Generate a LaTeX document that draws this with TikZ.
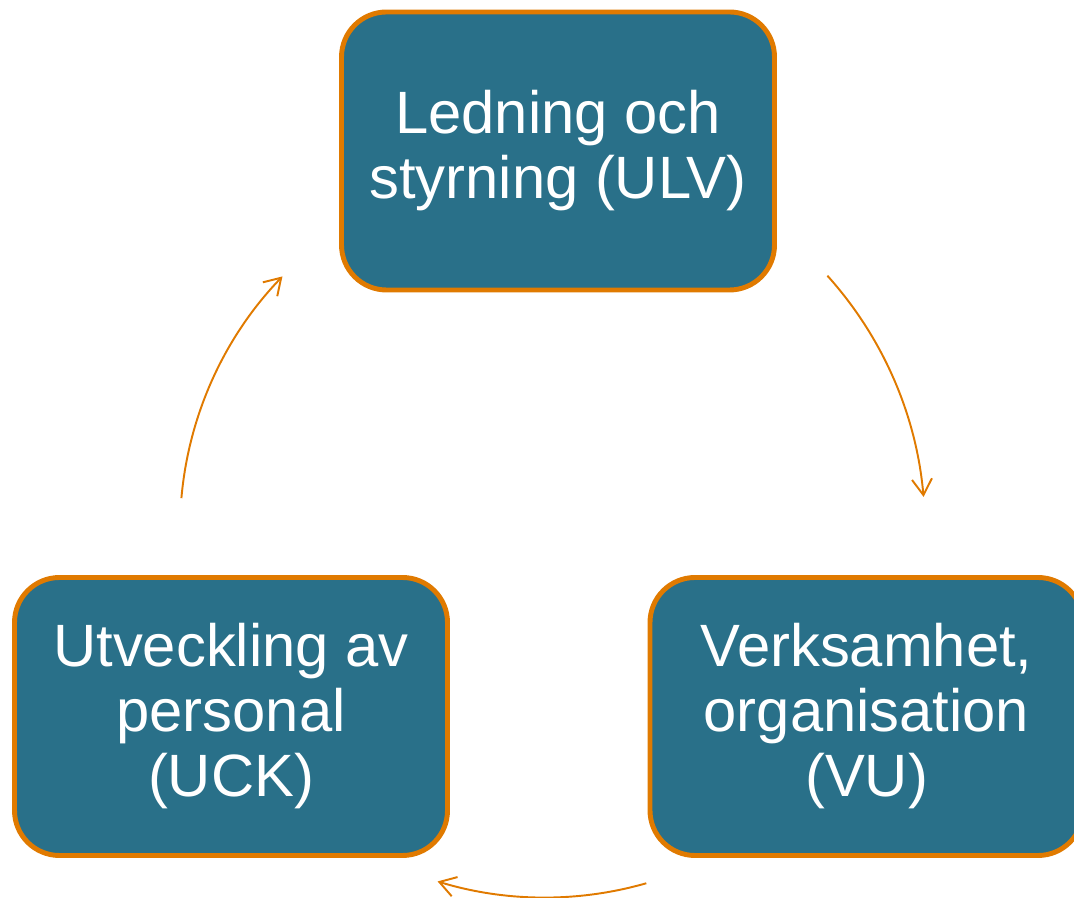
\documentclass[tikz,border=0pt]{standalone}
\usepackage{fontspec}
\setmainfont{Liberation Sans}
\usetikzlibrary{arrows.meta}
\definecolor{boxteal}{RGB}{41,112,137}
\definecolor{ringorange}{RGB}{224,122,0}

\begin{document}
\begin{tikzpicture}[
		area/.style={draw=ringorange, line width=2.8pt, fill=boxteal, rounded corners=0.9cm,
			minimum width=8.66cm, minimum height=5.56cm, align=center, text=white,
			font=\fontsize{34}{37}\selectfont},
		flow/.style={draw=ringorange, line width=1.1pt, -{Straight Barb[length=3.2mm,width=4mm]}}
	]
		\useasboundingbox (0,0) rectangle (21.48,17.96);
		\coordinate (hub) at (10.9,7.36);

		\node[area] (ulv) at (11.16,14.94) {Ledning och\\styrning (ULV)};
		\node[area] (uck) at (4.62,3.63) {Utveckling av\\personal\\(UCK)};
		\node[area] (vu) at (17.33,3.63) {Verksamhet,\\organisation\\(VU)};

		\draw[flow] ([shift={(42:7.6)}]hub) arc[start angle=42, end angle=5, radius=7.6];
		\draw[flow] ([shift={(-74:7.35)}]hub) arc[start angle=-74, end angle=-107, radius=7.35];
		\draw[flow] ([shift={(175:7.3)}]hub) arc[start angle=175, end angle=136, radius=7.3];
	\end{tikzpicture}
\end{document}
